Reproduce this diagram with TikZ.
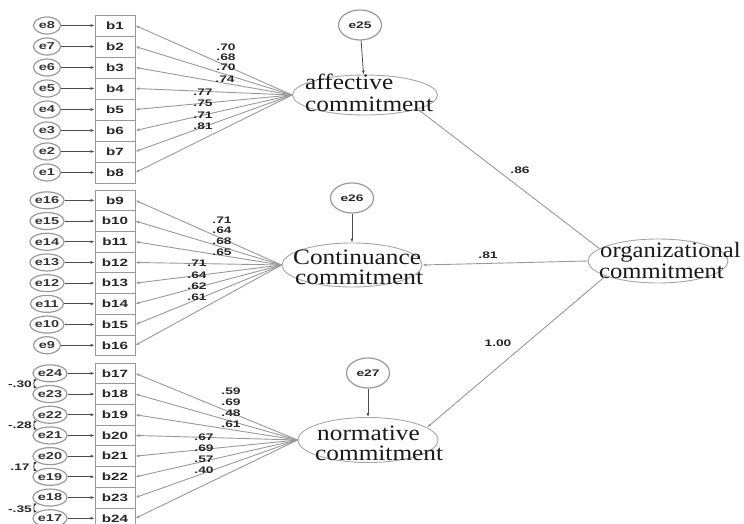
\documentclass[tikz,border=0pt]{standalone}
\usepackage{fontspec}
\setmainfont{Liberation Serif}
\newfontfamily\labfont[FakeStretch=1.45]{Liberation Sans}
\usetikzlibrary{shapes.geometric,arrows.meta}
\tikzset{
 err/.style={ellipse, draw=gray!80, line width=1.2pt, minimum width=27pt, minimum height=17pt, inner sep=0pt, font=\labfont\bfseries\fontsize{10}{10}\selectfont, text=black!80},
 item/.style={rectangle, draw=gray!80, line width=0.8pt, minimum width=40pt, minimum height=21pt, inner sep=0pt, font=\labfont\bfseries\fontsize{10.5}{10.5}\selectfont, text=black!85},
 lat/.style={ellipse, draw=gray!70, line width=0.9pt, inner sep=0pt},
 dist/.style={ellipse, draw=gray!80, line width=1.2pt, minimum width=43pt, minimum height=30pt, inner sep=0pt, font=\labfont\bfseries\fontsize{9.5}{9.5}\selectfont, text=black!85},
 ld/.style={draw=gray!80, line width=0.9pt, -{Latex[length=4pt,width=3pt]}},
 ea/.style={draw=gray!60!black, line width=0.8pt, -{Latex[length=4pt,width=3pt]}},
 cov/.style={draw=black!80, line width=0.9pt, {Latex[length=3pt,width=3pt]}-{Latex[length=3pt,width=3pt]}},
 lbl/.style={font=\labfont\bfseries\fontsize{9.5}{9.5}\selectfont, inner sep=0pt, text=black!85},
 ltext/.style={anchor=base west, inner sep=0pt, font=\fontsize{22}{22}\selectfont, text=black!90},
}
\begin{document}
\begin{tikzpicture}[x=1pt,y=-1pt]
\useasboundingbox (0,0) rectangle (744,524);
% latent ellipses
\node[lat, minimum width=145pt, minimum height=40pt] (aff) at (365,95) {};
\node[lat, minimum width=140pt, minimum height=44pt] (con) at (352,265) {};
\node[lat, minimum width=140pt, minimum height=45pt] (nor) at (368,440) {};
\node[lat, minimum width=140pt, minimum height=44pt] (org) at (658,261) {};
% latent texts
\node[ltext] (afft1) at (305,90) {\scalebox{1.15}[1]{affective}};
\node[ltext] (afft2) at (305,112) {\scalebox{1.15}[1]{commitment}};
\node[ltext] (cont1) at (293,264) {\scalebox{1.15}[1]{Continuance}};
\node[ltext] (cont2) at (295,284) {\scalebox{1.15}[1]{commitment}};
\node[ltext] (nort1) at (317,440) {\scalebox{1.15}[1]{normative}};
\node[ltext] (nort2) at (315,460) {\scalebox{1.15}[1]{commitment}};
\node[ltext] (orgt1) at (600,257) {\scalebox{1.12}[1]{organizational}};
\node[ltext] (orgt2) at (599,278) {\scalebox{1.12}[1]{commitment}};
% group 1
\foreach \i in {1,...,8} {
  \pgfmathsetmacro\yy{25.5+21*(\i-1)}
  \pgfmathtruncatemacro\ee{9-\i}
  \node[item] (b\i) at (115,\yy) {b\i};
  \node[err] (e\ee) at (47,\yy) {e\ee};
  \draw[ea] (e\ee) -- (b\i);
  \draw[ld] (aff.west) -- (b\i.east);
}
% group 2
\foreach \i in {9,...,16} {
  \pgfmathsetmacro\yy{200.35+20.7*(\i-9)}
  \pgfmathtruncatemacro\ee{25-\i}
  \node[item, minimum height=20.7pt] (b\i) at (115,\yy) {b\i};
  \node[err] (e\ee) at (47,\yy) {e\ee};
  \draw[ea] (e\ee) -- (b\i);
  \draw[ld] (con.west) -- (b\i.east);
}
% group 3
\foreach \i in {17,...,24} {
  \pgfmathsetmacro\yy{373.35+20.7*(\i-17)}
  \pgfmathtruncatemacro\ee{41-\i}
  \node[item, minimum height=20.7pt] (b\i) at (115,\yy) {b\i};
  \node[err] (e\ee) at (50,\yy) {e\ee};
  \draw[ea] (e\ee) -- (b\i);
  \draw[ld] (nor.west) -- (b\i.east);
}
% disturbances
\node[dist] (e25) at (360,25) {e25};
\node[dist] (e26) at (352,198) {e26};
\node[dist] (e27) at (368,373) {e27};
\draw[ea] (e25) -- (aff);
\draw[ea] (e26) -- (con);
\draw[ea] (e27) -- (nor);
% structural paths
\draw[ld] (org.168) -- (aff.-15);
\draw[ld] (org.west) -- (con.east);
\draw[ld] (org.196) -- (nor.12);
\node[lbl] (l86) at (520,170) {.86};
\node[lbl] (l81) at (488,255) {.81};
\node[lbl] (l100) at (498,343) {1.00};
% loadings labels
\node[lbl] (a1) at (226,47) {.70};
\node[lbl] (a2) at (226,57) {.68};
\node[lbl] (a3) at (226,67) {.70};
\node[lbl] (a4) at (225,79) {.74};
\node[lbl] (a5) at (203,92) {.77};
\node[lbl] (a6) at (203,103) {.75};
\node[lbl] (a7) at (203,115) {.71};
\node[lbl] (a8) at (203,126) {.81};
\node[lbl] (c1) at (222,220) {.71};
\node[lbl] (c2) at (222,230) {.64};
\node[lbl] (c3) at (222,241) {.68};
\node[lbl] (c4) at (222,252) {.65};
\node[lbl] (c5) at (197,263) {.71};
\node[lbl] (c6) at (197,275) {.64};
\node[lbl] (c7) at (197,286) {.62};
\node[lbl] (c8) at (197,297) {.61};
\node[lbl] (n1) at (231,391) {.59};
\node[lbl] (n2) at (231,402) {.69};
\node[lbl] (n3) at (231,413) {.48};
\node[lbl] (n4) at (231,424) {.61};
\node[lbl] (n5) at (204,437) {.67};
\node[lbl] (n6) at (204,448) {.69};
\node[lbl] (n7) at (204,459) {.57};
\node[lbl] (n8) at (204,470) {.40};
% covariances
\draw[cov] (e24.205) to[bend right=70] (e23.155);
\draw[cov] (e22.205) to[bend right=70] (e21.155);
\draw[cov] (e20.205) to[bend right=70] (e19.155);
\draw[cov] (e18.205) to[bend right=70] (e17.155);
\node[lbl] (k1) at (20,384) {-.30};
\node[lbl] (k2) at (20,425) {-.28};
\node[lbl] (k3) at (20,467) {.17};
\node[lbl] (k4) at (20,509) {-.35};
\end{tikzpicture}
\end{document}
